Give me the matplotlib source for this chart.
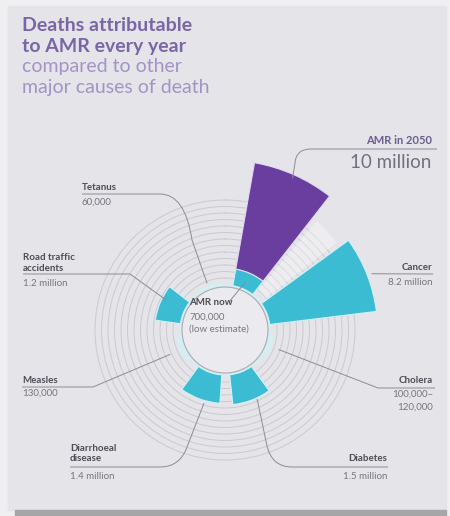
import numpy as np
import matplotlib.pyplot as plt
from matplotlib.patches import Rectangle, Circle, PathPatch
from matplotlib.path import Path

plt.rcParams['font.family'] = ['Lato', 'DejaVu Sans']

# data (deaths per year, millions)
causes = ['AMR in 2050', 'Cancer', 'Cholera', 'Diabetes', 'Diarrhoeal\ndisease',
          'Measles', 'Road traffic\naccidents', 'Tetanus']
deaths_m = [10.0, 8.2, 0.12, 1.5, 1.4, 0.13, 1.2, 0.06]
value_text = ['10 million', '8.2 million', '100,000\u2013', '1.5 million',
              '1.4 million', '130,000', '1.2 million', '60,000']
amr_now_m = 0.7
amr_now_text = ['AMR now', '700,000', '(low estimate)']

# layout: wedge direction / width (degrees clockwise from north)
angle_deg = [24, 68.5, 110, 159, 200, 246, 293, 339]
span_deg = [28, 29, 28, 30, 32, 28, 30, 28]
ring_radii = np.arange(52, 131, 6.5)

W, H = 450, 516
CX, CY = 225, 330
HUB = 45
RMAX = 180
PURPLE = '#6a3e9e'
CYAN = '#3cbcd3'
GREY = '#8c8c93'
DARK = '#4c4c54'
LIGHT = '#76767e'


def radius(v):
    # radial scale used by the infographic (compressed for large values)
    return 22.1 * v ** 0.752


def to_px(theta, r):
    t = np.radians(theta)
    return CX + r * np.sin(t), CY - r * np.cos(t)


fig = plt.figure(figsize=(W / 100, H / 100), dpi=100, facecolor='#efeff2')

bg = fig.add_axes([0, 0, 1, 1], zorder=0)
bg.set_xlim(0, W)
bg.set_ylim(H, 0)
bg.axis('off')
bg.add_patch(Rectangle((8, 6), 438, 504, color='#e4e4e9'))
bg.add_patch(Rectangle((15, 510), 431, 6, color='#a6a6a9'))

# radial chart
pax = fig.add_axes([(CX - RMAX) / W, (H - CY - RMAX) / H, 2 * RMAX / W, 2 * RMAX / H],
                   projection='polar', zorder=1)
pax.set_facecolor('none')
pax.set_theta_zero_location('N')
pax.set_theta_direction(-1)
pax.set_ylim(0, RMAX)
pax.set_xticks([])
pax.set_rgrids(ring_radii)
pax.set_yticklabels([])
pax.yaxis.grid(True, color='#cacad0', lw=0.7)
pax.spines['polar'].set_visible(False)
pax.set_axisbelow(True)

theta = np.radians(angle_deg)
width = np.radians(span_deg)
heights = [radius(v) for v in deaths_m]

# pale halo around the hub
pax.bar(0, 3, width=2 * np.pi, bottom=HUB - 2, color='#d4eef2', lw=0)

# white gap band between the two large wedges
pax.bar(np.radians(46), 90, width=np.radians(12), bottom=52, color='white',
        alpha=0.35, lw=0)

for i, c in enumerate(causes):
    small = deaths_m[i] < 0.5
    if c == 'AMR in 2050':
        h0 = radius(amr_now_m)
        pax.bar(theta[i], h0, width=width[i], bottom=HUB, color=CYAN,
                edgecolor='#d3f1f6', lw=0.8)
        pax.bar(theta[i], heights[i] - h0, width=width[i], bottom=HUB + h0,
                color=PURPLE, edgecolor='#e4daf3', lw=0.8)
    else:
        pax.bar(theta[i], heights[i], width=width[i], bottom=HUB,
                color='#d4eef2' if small else CYAN,
                edgecolor='none' if small else '#d3f1f6', lw=0.8)

# overlay for hub, labels and leader lines
ov = fig.add_axes([0, 0, 1, 1], zorder=2)
ov.set_xlim(0, W)
ov.set_ylim(H, 0)
ov.axis('off')
ov.set_facecolor('none')
ov.add_patch(Circle((CX, CY), HUB - 2, facecolor='#ebebef', edgecolor='#aaaab1', lw=0.8))

# title
ov.text(22, 31, 'Deaths attributable', fontsize=14, fontweight='bold', color='#7a66a6')
ov.text(22, 52, 'to AMR every year', fontsize=14, fontweight='bold', color='#7a66a6')
ov.text(22, 72, 'compared to other', fontsize=14, color='#a494c6')
ov.text(22, 93, 'major causes of death', fontsize=14, color='#a494c6')


def leader(points, codes=None):
    if codes is None:
        codes = [Path.MOVETO] + [Path.LINETO] * (len(points) - 1)
    ov.add_patch(PathPatch(Path(points, codes), fill=False, edgecolor=GREY, lw=0.7))


L, Q = Path.LINETO, Path.CURVE3

# AMR in 2050
ov.text(432, 144, 'AMR in 2050', fontsize=8, fontweight='bold', color='#6a5d8e', ha='right')
ov.text(431, 168, value_text[0], fontsize=13.5, color='#70707f', ha='right')
e = to_px(angle_deg[0], 166)
leader([(437, 149), (311, 149), (296, 149), (295, 163), e], [Path.MOVETO, L, Q, Q, L])

# Cancer
ov.text(432, 270, 'Cancer', fontsize=7, fontweight='bold', color=DARK, ha='right')
ov.text(432, 285, value_text[1], fontsize=7, color=LIGHT, ha='right')
e = to_px(69, 157)
leader([(433, 274), e])

# Cholera
ov.text(433, 383, 'Cholera', fontsize=7, fontweight='bold', color=DARK, ha='right')
ov.text(433, 397, value_text[2], fontsize=7, color=LIGHT, ha='right')
ov.text(433, 410, '120,000', fontsize=7, color=LIGHT, ha='right')
e = to_px(angle_deg[2], 57)
leader([(435, 388), (378, 388), e])

# Diabetes
ov.text(387, 461, 'Diabetes', fontsize=7, fontweight='bold', color=DARK, ha='right')
ov.text(387, 479, value_text[3], fontsize=7, color=LIGHT, ha='right')
e = to_px(155, 76)
leader([(388, 467), (292, 467), (272, 467), (267, 446), e], [Path.MOVETO, L, Q, Q, L])

# Diarrhoeal disease
ov.text(70, 451, 'Diarrhoeal', fontsize=7, fontweight='bold', color=DARK)
ov.text(70, 461, 'disease', fontsize=7, fontweight='bold', color=DARK)
ov.text(70, 479, value_text[4], fontsize=7, color=LIGHT)
e = to_px(196, 76)
leader([(70, 467), (160, 467), (180, 467), (187, 447), e], [Path.MOVETO, L, Q, Q, L])

# Measles
ov.text(22, 383, 'Measles', fontsize=7, fontweight='bold', color=DARK)
ov.text(22, 396, value_text[5], fontsize=7, color=LIGHT)
e = to_px(angle_deg[5], 60)
leader([(22, 387), (93, 387), e])

# Road traffic accidents
ov.text(23, 260, 'Road traffic', fontsize=7, fontweight='bold', color=DARK)
ov.text(23, 271, 'accidents', fontsize=7, fontweight='bold', color=DARK)
ov.text(23, 286, value_text[6], fontsize=7, color=LIGHT)
e = to_px(297, 66)
leader([(23, 274), (130, 274), e])

# Tetanus
ov.text(82, 190, 'Tetanus', fontsize=7, fontweight='bold', color=DARK)
ov.text(82, 205, value_text[7], fontsize=7, color=LIGHT)
e = to_px(angle_deg[7], 50)
leader([(82, 194), (160, 194), (185, 194), (192, 240), e], [Path.MOVETO, L, Q, Q, L])

# AMR now (hub)
ov.text(189, 305, amr_now_text[0], fontsize=7, fontweight='bold', color=DARK)
ov.text(189, 320, amr_now_text[1], fontsize=7, color=LIGHT)
ov.text(189, 332, amr_now_text[2], fontsize=7, color=LIGHT)
e = to_px(23, 52)
leader([(229, 302), e])

fig.savefig('out.png', dpi=100, facecolor=fig.get_facecolor())
